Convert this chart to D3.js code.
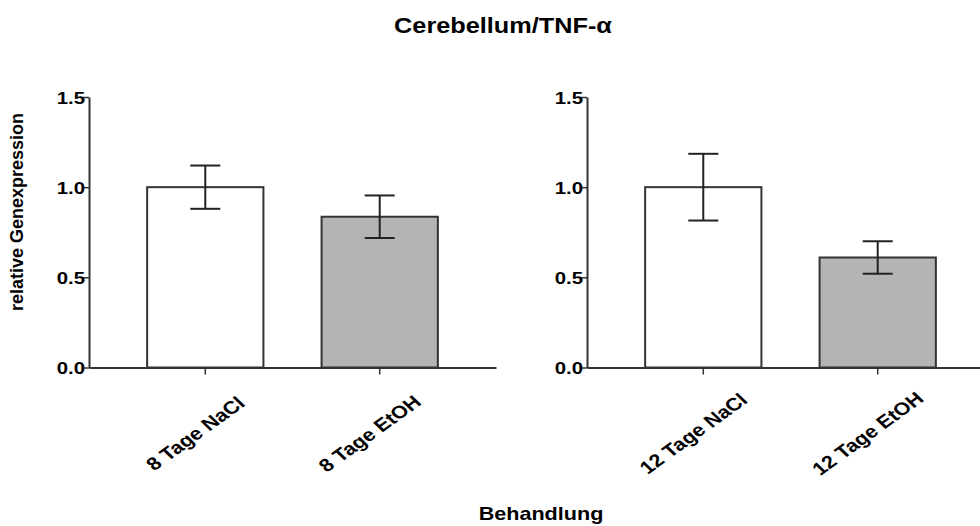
<!DOCTYPE html>
<html>
<head>
<meta charset="utf-8">
<script src="https://cdn.jsdelivr.net/npm/d3@7"></script>
<style>
  html, body { margin: 0; padding: 0; background: #fff; }
  svg { display: block; }
  text { font-family: "Liberation Sans", Arial, Helvetica, sans-serif; font-weight: bold; fill: #000; }
</style>
</head>
<body>
<svg id="chart" width="980" height="526"></svg>
<script>
// ---- data ----
const title = "Cerebellum/TNF-α";
const yLabel = "relative Genexpression";
const xLabel = "Behandlung";
const yTicks = [0, 0.5, 1.0, 1.5];

const categoriesA = ["8 Tage NaCl", "8 Tage EtOH"];
const meansA = [1.0, 0.836];
const semA = [0.12, 0.118];

const categoriesB = ["12 Tage NaCl", "12 Tage EtOH"];
const meansB = [1.0, 0.61];
const semB = [0.185, 0.09];

const fills = ["#ffffff", "#b4b4b4"];

// ---- layout ----
const SX = 1.2; // horizontal text stretch seen in the reference
const svg = d3.select("#chart");
const y = d3.scaleLinear().domain([0, 1.5]).range([367.5, 97]);

function panel(cats, means, sems, x0, x1) {
  const g = svg.append("g");
  const x = d3.scaleBand().domain(cats).range([x0, x1]).paddingInner(1/3).paddingOuter(1/3);

  // bars
  g.selectAll("rect.bar").data(cats).enter().append("rect")
    .attr("x", d => x(d))
    .attr("y", (d, i) => y(means[i]))
    .attr("width", x.bandwidth())
    .attr("height", (d, i) => y(0) - y(means[i]))
    .attr("fill", (d, i) => fills[i])
    .attr("stroke", "#333")
    .attr("stroke-width", 2);

  // error bars
  const eb = g.selectAll("g.err").data(cats).enter().append("g")
    .attr("stroke", "#222").attr("stroke-width", 2);
  eb.append("line")
    .attr("x1", d => x(d) + x.bandwidth() / 2)
    .attr("x2", d => x(d) + x.bandwidth() / 2)
    .attr("y1", (d, i) => y(means[i] + sems[i]))
    .attr("y2", (d, i) => y(means[i] - sems[i]));
  [1, -1].forEach(s => {
    eb.append("line")
      .attr("x1", d => x(d) + x.bandwidth() / 2 - 15)
      .attr("x2", d => x(d) + x.bandwidth() / 2 + 15)
      .attr("y1", (d, i) => y(means[i] + s * sems[i]))
      .attr("y2", (d, i) => y(means[i] + s * sems[i]));
  });

  // y axis
  const ya = g.append("g").attr("transform", `translate(${x0},0)`)
    .call(d3.axisLeft(y).tickValues(yTicks).tickFormat(d3.format(".1f")).tickSize(6).tickSizeOuter(0));
  ya.select(".domain").attr("stroke", "#333").attr("stroke-width", 2);
  ya.selectAll(".tick line").attr("stroke", "#333").attr("stroke-width", 1.5);
  ya.selectAll(".tick text").attr("font-size", 17).attr("fill", "#000")
    .style("font-family", "'Liberation Sans', Arial, sans-serif").style("font-weight", "bold")
    .attr("x", 0).attr("dy", "0.36em")
    .attr("text-anchor", "end")
    .attr("transform", `translate(-4,0) scale(${SX},1)`);

  // x axis
  const xa = g.append("g").attr("transform", `translate(0,${y(0)})`)
    .call(d3.axisBottom(x).tickSize(7).tickSizeOuter(0));
  xa.select(".domain").attr("stroke", "#333").attr("stroke-width", 2);
  xa.selectAll(".tick line").attr("stroke", "#333").attr("stroke-width", 1.5);
  xa.selectAll(".tick text")
    .attr("font-size", 18)
    .attr("fill", "#000")
    .style("font-family", "'Liberation Sans', Arial, sans-serif").style("font-weight", "bold")
    .attr("text-anchor", "middle")
    .attr("dy", "0.35em")
    .attr("y", 0)
    .attr("transform", `translate(-10,66) scale(${SX},1) rotate(-41)`);
}

panel(categoriesA, meansA, semA, 89, 496);
panel(categoriesB, meansB, semB, 587, 994);

// titles
svg.append("text").attr("transform", `translate(503,33) scale(1.15,1)`).attr("text-anchor", "middle")
  .attr("font-size", 22).text(title);
svg.append("text").attr("transform", "translate(23,212) rotate(-90)").attr("text-anchor", "middle")
  .attr("font-size", 18).text(yLabel);
svg.append("text").attr("transform", `translate(541,520) scale(${SX},1)`).attr("text-anchor", "middle")
  .attr("font-size", 18).text(xLabel);
</script>
</body>
</html>
